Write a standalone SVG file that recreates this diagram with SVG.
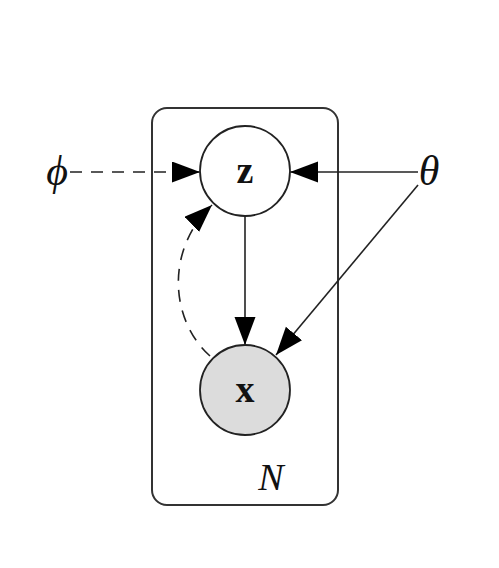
<svg xmlns="http://www.w3.org/2000/svg" width="499" height="568" viewBox="0 0 499 568">
<style>
.edge{fill:none;stroke:#222;stroke-width:1.6}
.dash{stroke-dasharray:12 9}
.node{stroke:#222;stroke-width:1.8}
.lbl{font-family:"Liberation Serif","DejaVu Serif",serif;fill:#111}
</style>
<defs>
<marker id="ah" markerUnits="userSpaceOnUse" markerWidth="30" markerHeight="22" refX="28" refY="10.5" orient="auto">
<path d="M0,0 L28,10.5 L0,21 Z" fill="#000"/>
</marker>
</defs>
<rect width="499" height="568" fill="#fff"/>
<g id="plate">
<rect x="152" y="108" width="186" height="397" rx="15" fill="none" stroke="#333" stroke-width="2"/>
<text class="lbl" x="271" y="490" font-size="38" font-style="italic" text-anchor="middle">N</text>
</g>
<g id="connectors">
<line class="edge dash" x1="70" y1="172" x2="200" y2="172" marker-end="url(#ah)"/>
<line class="edge" x1="418" y1="172" x2="290" y2="172" marker-end="url(#ah)"/>
<line class="edge" x1="245" y1="216" x2="245" y2="345" marker-end="url(#ah)"/>
<line class="edge" x1="418" y1="185" x2="276" y2="355" marker-end="url(#ah)"/>
<path class="edge dash" d="M210,356 C170,320 165,250 212,205" marker-end="url(#ah)"/>
</g>
<g id="z">
<circle class="node" cx="245" cy="171" r="45" fill="#fff"/>
<text class="lbl" x="245" y="183" font-size="38" font-weight="bold" text-anchor="middle">z</text>
</g>
<g id="x">
<circle class="node" cx="245" cy="390" r="45" fill="#dcdcdc"/>
<text class="lbl" x="245" y="402" font-size="38" font-weight="bold" text-anchor="middle">x</text>
</g>
<g id="phi">
<text class="lbl" x="57" y="185" font-size="42" font-style="italic" text-anchor="middle">ϕ</text>
</g>
<g id="theta">
<text class="lbl" x="429" y="185" font-size="42" font-style="italic" text-anchor="middle">θ</text>
</g>
</svg>
